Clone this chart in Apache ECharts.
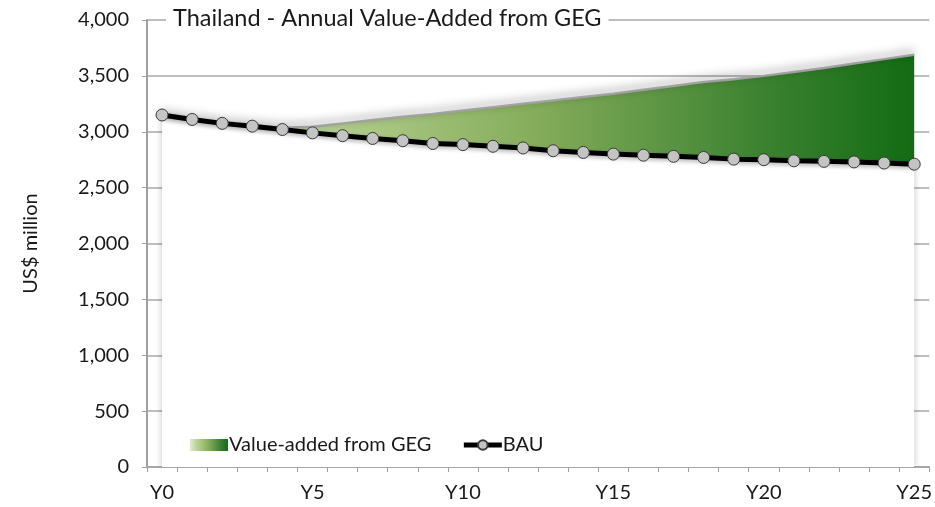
<!DOCTYPE html>
<html>
<head>
<meta charset="utf-8">
<script src="https://cdn.jsdelivr.net/npm/echarts@6/dist/echarts.min.js"></script>
<style>
  html, body { margin: 0; padding: 0; background: #fff; }
  #chart { width: 935px; height: 507px; }
</style>
</head>
<body>
<div id="chart"></div>
<script>
const years = ['Y0', 'Y1', 'Y2', 'Y3', 'Y4', 'Y5', 'Y6', 'Y7', 'Y8', 'Y9', 'Y10', 'Y11', 'Y12',
    'Y13', 'Y14', 'Y15', 'Y16', 'Y17', 'Y18', 'Y19', 'Y20', 'Y21', 'Y22', 'Y23', 'Y24', 'Y25'];

// business as usual
const bau = [3150, 3110, 3075, 3050, 3020, 2990, 2965, 2940, 2920, 2895, 2885, 2870, 2855,
    2830, 2815, 2800, 2790, 2780, 2770, 2755, 2750, 2740, 2735, 2730, 2720, 2710];

// total value-added with green economy (top of the shaded area)
const geg = [3150, 3110, 3078, 3056, 3035, 3045, 3075, 3105, 3135, 3160, 3190, 3220, 3250,
    3280, 3310, 3340, 3375, 3410, 3445, 3470, 3500, 3535, 3570, 3610, 3650, 3690];

const yTicks = [0, 500, 1000, 1500, 2000, 2500, 3000, 3500, 4000];

const FONT = 'Lato';
const added = geg.map((v, i) => v - bau[i]);

const greenGrad = new echarts.graphic.LinearGradient(0, 0, 1, 0, [
    { offset: 0, color: '#dfead0' },
    { offset: 0.2, color: '#b7d192' },
    { offset: 0.5, color: '#84ac5a' },
    { offset: 0.8, color: '#3b8230' },
    { offset: 1, color: '#136b14' }
]);

const chart = echarts.init(document.getElementById('chart'), null, { renderer: 'canvas' });

chart.setOption({
    backgroundColor: '#fff',
    animation: false,
    textStyle: { fontFamily: FONT },
    title: {
        text: 'Thailand - Annual Value-Added from GEG',
        left: 166,
        top: 6,
        padding: [0, 7],
        backgroundColor: '#fff',
        textStyle: { fontFamily: FONT, fontSize: 23.5, fontWeight: 'normal', color: '#1a1a1a' }
    },
    legend: {
        left: 185,
        top: 430,
        itemWidth: 38,
        itemHeight: 12,
        itemGap: 30,
        textStyle: { fontFamily: FONT, fontSize: 20, color: '#1a1a1a', padding: [0, 0, 0, -4] },
        data: [
            { name: 'Value-added from GEG', icon: 'rect', itemStyle: { color: greenGrad } },
            { name: 'BAU', lineStyle: { width: 5, color: '#000' } }
        ]
    },
    grid: { left: 147, right: 3, top: 20, bottom: 40 },
    xAxis: {
        type: 'category',
        data: years,
        boundaryGap: true,
        axisLine: { lineStyle: { color: '#a0a0a0', width: 1.5 } },
        axisTick: { show: true, interval: 0, length: 5, lineStyle: { color: '#a0a0a0' } },
        axisLabel: {
            interval: 4,
            margin: 16,
            fontFamily: FONT,
            fontSize: 20,
            color: '#1a1a1a'
        },
        splitLine: { show: false }
    },
    yAxis: {
        type: 'value',
        min: yTicks[0],
        max: yTicks[yTicks.length - 1],
        interval: 500,
        name: 'US$ million',
        nameLocation: 'middle',
        nameGap: 106,
        nameTextStyle: { fontFamily: FONT, fontSize: 20, color: '#1a1a1a' },
        axisLine: { show: true, lineStyle: { color: '#a0a0a0', width: 2 } },
        axisTick: { show: true, length: 5, lineStyle: { color: '#a0a0a0' } },
        axisLabel: {
            margin: 18,
            fontFamily: FONT,
            fontSize: 20,
            color: '#1a1a1a',
            formatter: v => v.toLocaleString('en-US')
        },
        splitLine: { show: true, lineStyle: { color: '#a8a8a8', width: 1.5 } }
    },
    series: [
        {
            name: 'base',
            type: 'line',
            stack: 'total',
            data: bau,
            symbol: 'none',
            lineStyle: { width: 0 },
            areaStyle: {
                color: '#ffffff',
                opacity: 1,
                shadowColor: 'rgba(0,0,0,0.25)',
                shadowBlur: 6
            },
            silent: true,
            z: 2
        },
        {
            name: 'Value-added from GEG',
            type: 'line',
            stack: 'total',
            data: added,
            symbol: 'none',
            itemStyle: { color: greenGrad },
            lineStyle: {
                color: 'rgba(160,160,160,0.95)',
                width: 2.5,
                shadowColor: 'rgba(0,0,0,0.55)',
                shadowBlur: 8,
                shadowOffsetY: -3
            },
            areaStyle: { color: greenGrad, opacity: 1 },
            z: 3
        },
        {
            name: 'BAU',
            type: 'line',
            data: bau,
            symbol: 'circle',
            symbolSize: 12,
            itemStyle: { color: '#c4c4c4', borderColor: '#3a3a3a', borderWidth: 1 },
            lineStyle: {
                color: '#000',
                width: 5,
                shadowColor: 'rgba(0,0,0,0.3)',
                shadowBlur: 4,
                shadowOffsetY: 2
            },
            z: 5
        }
    ]
});
</script>
</body>
</html>
